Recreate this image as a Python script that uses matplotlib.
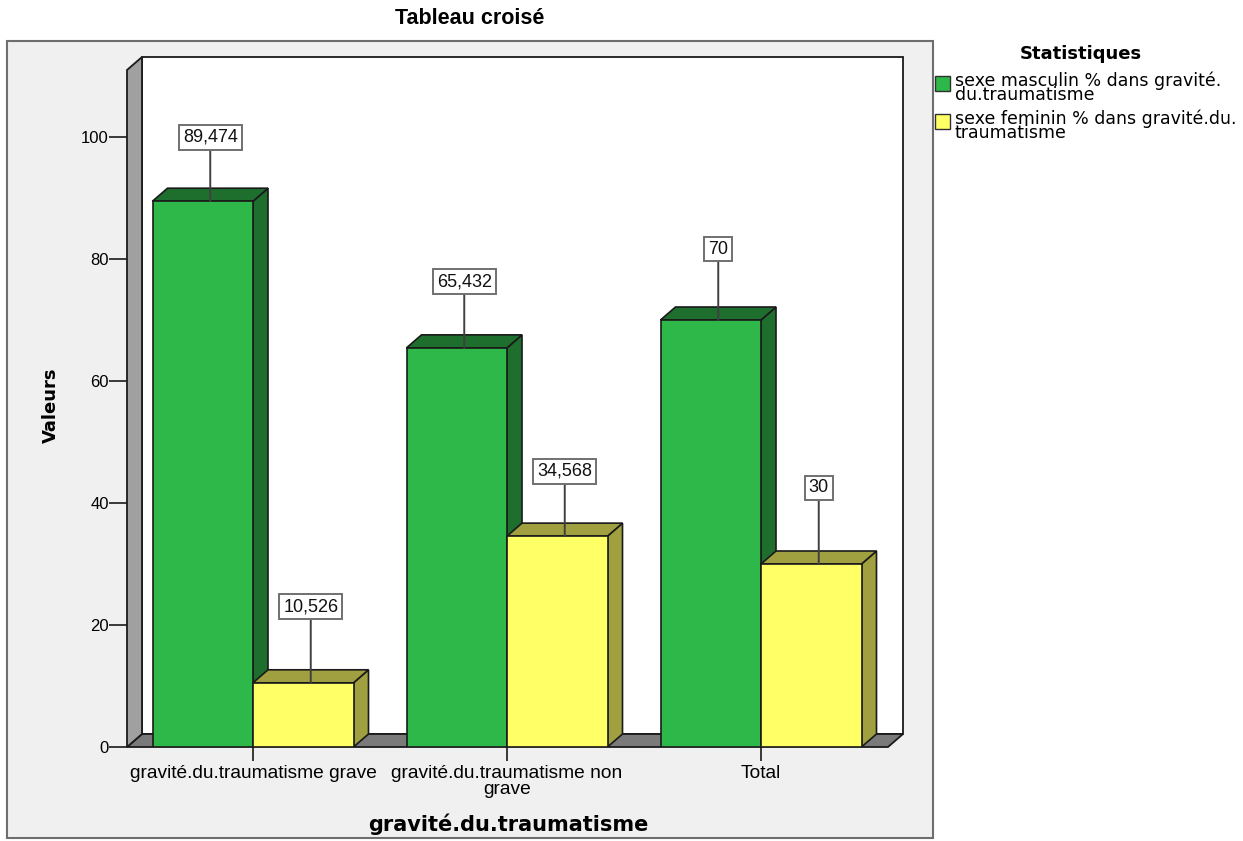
import matplotlib
matplotlib.use("Agg")
import matplotlib.pyplot as plt
from matplotlib.patches import Polygon, Rectangle

plt.rcParams['font.family'] = ['Liberation Sans', 'DejaVu Sans']

# ---- data ----
categories = ["gravité.du.traumatisme grave",
              "gravité.du.traumatisme non\ngrave",
              "Total"]
series_names = ["sexe masculin % dans gravité.\ndu.traumatisme",
                "sexe feminin % dans gravité.du.\ntraumatisme"]
masculin = [89.474, 65.432, 70]
feminin = [10.526, 34.568, 30]
value_labels = [["89,474", "65,432", "70"],
                ["10,526", "34,568", "30"]]
y_ticks = [0, 20, 40, 60, 80, 100]

# ---- style ----
face_colors = ["#2eb84a", "#ffff66"]
shade_colors = ["#1e6e2e", "#a0a040"]
frame_bg = "#f0f0f0"
W, H = 1243, 841
px_x, px_y = 254.0, 6.1          # pixels per category / per value unit
depth_px_x, depth_px_y = 15, 13  # 3-D depth offset in pixels
bar_w = 100.5 / px_x
# vertical lift of each value box above its bar (pixels)
label_lift = [[64, 66, 71], [76, 65, 76]]
wide_font = ["DejaVu Sans"]

fig = plt.figure(figsize=(W / 100, H / 100), dpi=100)
fig.patch.set_facecolor("white")

# background layer in pixel coordinates
bg = fig.add_axes([0, 0, 1, 1], zorder=0)
bg.set_xlim(0, W)
bg.set_ylim(H, 0)
bg.axis("off")
bg.add_patch(Rectangle((7, 41), 926, 797, facecolor=frame_bg,
                       edgecolor="#6e6e6e", lw=1.5))
bg.text(470, 18, "Tableau croisé", ha="center", va="center",
        fontsize=15.5, fontweight="bold")
bg.text(51, 405, "Valeurs", ha="center", va="center", rotation=90,
        fontsize=13, fontweight="bold", family=wide_font)
bg.text(508, 824, "gravité.du.traumatisme", ha="center", va="center",
        fontsize=15, fontweight="bold", family=wide_font)

# legend
bg.text(1081, 54, "Statistiques", ha="center", va="center",
        fontsize=13, fontweight="bold", family=wide_font)
leg_y = [84, 122]
for name, fc, ly in zip(series_names, face_colors, leg_y):
    bg.add_patch(Rectangle((935, ly - 8), 15, 15, facecolor=fc,
                           edgecolor="#303030", lw=1))
    bg.text(955, ly - 13, name, ha="left", va="top", fontsize=12.5,
            linespacing=0.78, family=wide_font)

# main plotting area
x_left_px, x_right_px = 127, 903
y_zero_px, y_top_px = 747, 57
ax = fig.add_axes([x_left_px / W, (H - y_zero_px) / H,
                   (x_right_px - x_left_px) / W,
                   (y_zero_px - y_top_px) / H], zorder=1)
ax.patch.set_alpha(0)
xmin = (x_left_px - 253) / px_x
xmax = (x_right_px - 253) / px_x
ymax = (y_zero_px - y_top_px) / px_y
ax.set_xlim(xmin, xmax)
ax.set_ylim(0, ymax)
for s in ax.spines.values():
    s.set_visible(False)

dx = depth_px_x / px_x
dy = depth_px_y / px_y
edge = "#1a1a1a"

# back wall
ax.add_patch(Polygon([(xmin + dx, dy), (xmin + dx, ymax), (xmax, ymax),
                      (xmax, dy)], closed=True, facecolor="white",
                     edgecolor=edge, lw=1.3, zorder=1, clip_on=False))
# floor
ax.add_patch(Polygon([(xmin, 0), (xmax - dx, 0), (xmax, dy), (xmin + dx, dy)],
                     closed=True, facecolor="#7a7a7a", edgecolor=edge,
                     lw=1.3, zorder=2, clip_on=False))
# left wall
wall_top = ymax - dy
ax.add_patch(Polygon([(xmin, 0), (xmin, wall_top), (xmin + dx, ymax),
                      (xmin + dx, dy)], closed=True, facecolor="#a0a0a0",
                     edgecolor=edge, lw=1.3, zorder=2, clip_on=False))

# bars
series = [masculin, feminin]
z = 3
for ci in range(len(categories)):
    for si, vals in enumerate(series):
        v = vals[ci]
        x0 = ci - bar_w if si == 0 else ci
        x1 = x0 + bar_w
        # right side
        ax.add_patch(Polygon([(x1, 0), (x1, v), (x1 + dx, v + dy),
                              (x1 + dx, dy)], closed=True,
                             facecolor=shade_colors[si], edgecolor=edge,
                             lw=1.2, zorder=z))
        # top
        ax.add_patch(Polygon([(x0, v), (x1, v), (x1 + dx, v + dy),
                              (x0 + dx, v + dy)], closed=True,
                             facecolor=shade_colors[si], edgecolor=edge,
                             lw=1.2, zorder=z))
        # front
        ax.add_patch(Rectangle((x0, 0), bar_w, v,
                               facecolor=face_colors[si], edgecolor=edge,
                               lw=1.2, zorder=z + 0.5))
        z += 1
        # value box with leader line
        xc = (x0 + x1) / 2 + dx / 2
        ax.annotate(value_labels[si][ci], xy=(xc, v),
                    xytext=(0, label_lift[si][ci]), textcoords="offset pixels",
                    ha="center", va="center", fontsize=13, color="#111111",
                    bbox=dict(boxstyle="square,pad=0.22", facecolor="white",
                              edgecolor="#707070", lw=1.4),
                    arrowprops=dict(arrowstyle="-", color="#404040", lw=1.4,
                                    shrinkA=0, shrinkB=0),
                    zorder=50)

# axis ticks
ax.set_yticks(y_ticks)
ax.set_yticklabels([str(t) for t in y_ticks])
ax.set_xticks(range(len(categories)))
ax.set_xticklabels(categories, linespacing=0.9)
ax.tick_params(axis="y", length=13, width=1.2, color=edge, labelsize=12,
               pad=0, direction="out")
ax.tick_params(axis="x", length=10, width=1.2, color=edge, labelsize=13.8,
               pad=3, direction="out")
ax.set_axisbelow(False)

fig.savefig("out.png", dpi=100, facecolor=fig.get_facecolor())
